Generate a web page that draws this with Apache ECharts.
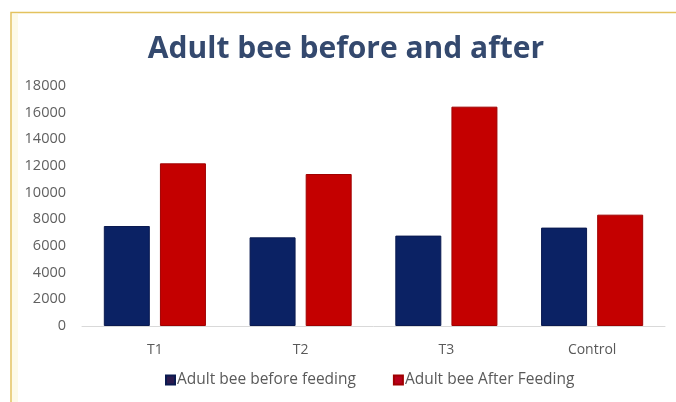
<!DOCTYPE html>
<html>
<head>
<meta charset="utf-8">
<script src="https://cdn.jsdelivr.net/npm/echarts@6/dist/echarts.min.js"></script>
<style>html,body{margin:0;padding:0;background:#fff}#c{width:676px;height:402px}</style>
</head>
<body>
<div id="c"></div>
<script>
var categories = ['T1', 'T2', 'T3', 'Control'];
var beforeFeeding = [7500, 6650, 6780, 7380];
var afterFeeding = [12200, 11400, 16450, 8350];
var seriesNames = ['Adult bee before feeding', 'Adult bee After Feeding'];
var titleText = 'Adult bee before and after';

var chart = echarts.init(document.getElementById('c'), null, {renderer: 'canvas'});
var font = '"Open Sans", "Liberation Sans", sans-serif';
chart.setOption({
  animation: false,
  backgroundColor: '#ffffff',
  graphic: [
    {type: 'rect', shape: {x: 12, y: 14, width: 6, height: 388}, style: {fill: 'rgba(250,240,190,0.35)'}, z: -1},
    {type: 'polyline', shape: {points: [[11, 402], [11, 12.5], [676, 12.5]]}, style: {stroke: '#e3c25e', lineWidth: 1.5, fill: null}}
  ],
  title: {
    text: titleText,
    left: 341, top: 29, textAlign: 'center',
    textStyle: {fontFamily: font, fontWeight: 'bold', fontSize: 30, color: '#34496e'}
  },
  legend: {
    data: [
      {name: seriesNames[0], itemStyle: {color: '#2a1a4e'}},
      {name: seriesNames[1], itemStyle: {color: '#b8001a'}}
    ],
    left: 160, top: 367, icon: 'rect', itemWidth: 9, itemHeight: 9, itemGap: 37,
    textStyle: {fontFamily: font, fontSize: 15.5, color: '#5a5a5a', padding: [0, 0, 0, -3]}
  },
  grid: {left: 82, right: 11, top: 86, bottom: 76, containLabel: false},
  xAxis: {
    type: 'category', data: categories,
    axisLine: {lineStyle: {color: '#d9d9d9', width: 1}},
    axisTick: {show: false},
    axisLabel: {fontFamily: font, fontSize: 14, color: '#595959', margin: 17}
  },
  yAxis: {
    type: 'value', min: 0, max: 18000, interval: 2000,
    axisLine: {show: false}, axisTick: {show: false},
    splitLine: {show: false},
    axisLabel: {fontFamily: font, fontSize: 14.5, color: '#606060', margin: 16,
      formatter: function (v) { return String(v); }}
  },
  series: [
    {name: seriesNames[0], type: 'bar', data: beforeFeeding, barWidth: 46, barGap: '22%',
     itemStyle: {color: '#0b2264', borderColor: '#0a1a50', borderWidth: 1}},
    {name: seriesNames[1], type: 'bar', data: afterFeeding, barWidth: 46,
     itemStyle: {color: '#c40000', borderColor: '#a00000', borderWidth: 1}}
  ]
});
</script>
</body>
</html>
